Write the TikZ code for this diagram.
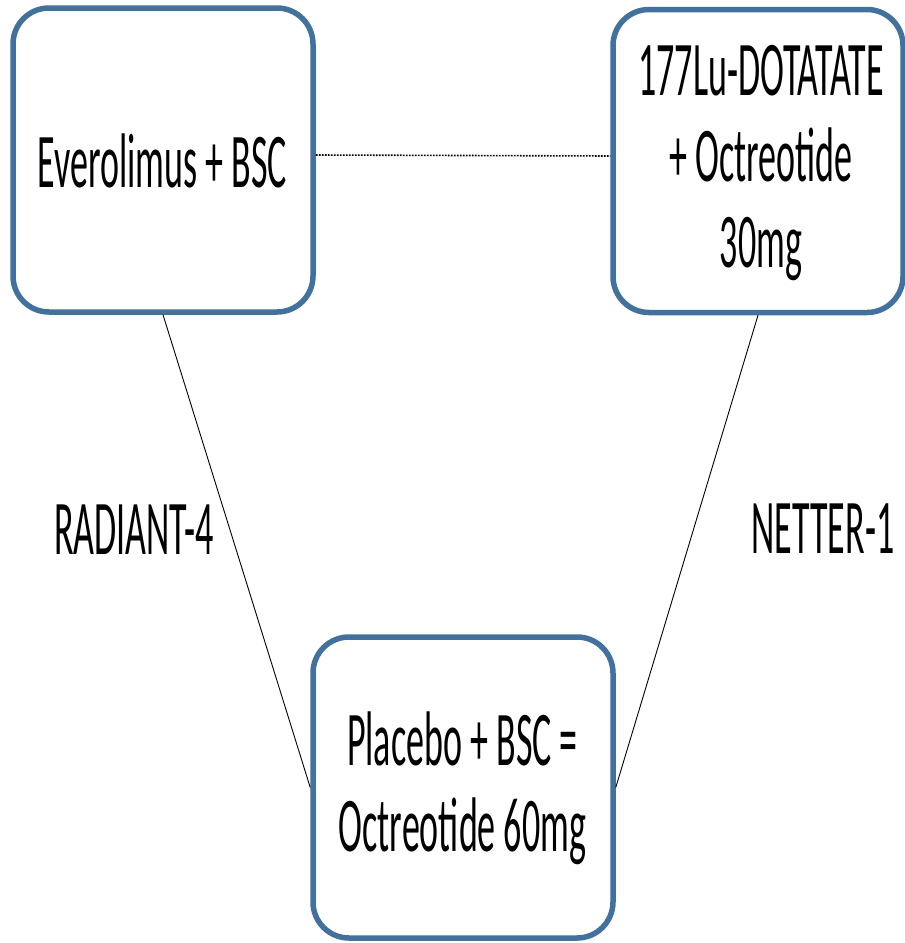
\documentclass[tikz,border=0pt]{standalone}
\usepackage{fontspec}
\setmainfont{Carlito}
\definecolor{boxblue}{RGB}{65,113,156}
\newcommand\tallcell[1]{\scalebox{1}[2.15]{\begin{tabular}{@{}c@{}}#1\end{tabular}}}
\newcommand\tallword[1]{\scalebox{1}[2.15]{#1}}
\begin{document}
\begin{tikzpicture}[x=1pt,y=-1pt,
  box/.style={draw=boxblue, line width=5.5pt, rounded corners=36pt, fill=white, inner sep=0pt},
  txt/.style={font=\fontsize{36}{40}\selectfont, inner sep=0pt, text=black},
  link/.style={draw=black, line width=0.9pt},
  dotline/.style={draw=black, line width=1.6pt, dash pattern=on 1.8pt off 1.2pt}]
\fill[white] (0,0) rectangle (905,943);
\useasboundingbox (0,0) rectangle (905,943);
% boxes
\node[box, minimum width=300pt, minimum height=304pt] (L) at (163,160) {};
\node[box, minimum width=290pt, minimum height=303pt] (R) at (758,161) {};
\node[box, minimum width=300pt, minimum height=301pt] (B) at (463,787.5) {};
% box texts
\node[txt] (Ltext) at (162.5,170) {\tallcell{Everolimus + BSC}};
\node[txt] (Rtext) at (761,164) {\tallcell{177Lu-DOTATATE\\+ Octreotide\\30mg}};
\node[txt] (Btext) at (462.5,791) {\tallcell{Placebo + BSC =\\Octreotide 60mg}};
% connectors
\draw[dotline] ([yshift=5pt]L.east) -- ([yshift=5pt]R.west);
\draw[link] (L.south) -- (B.west);
\draw[link] (R.south) -- (B.east);
% labels
\node[txt] (rad) at (134,530) {\tallword{RADIANT-4}};
\node[txt] (net) at (823,529) {\tallword{NETTER-1}};
\end{tikzpicture}
\end{document}
